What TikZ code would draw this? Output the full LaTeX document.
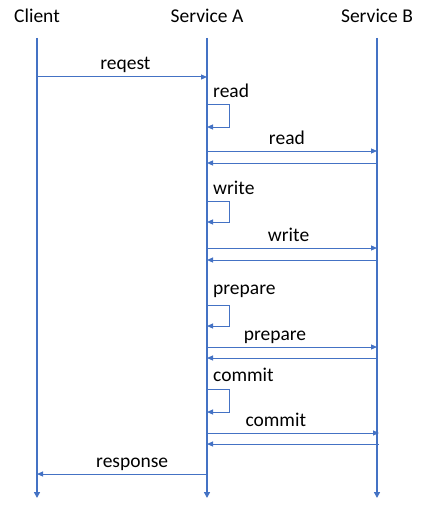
\documentclass[tikz,border=0pt]{standalone}
\usepackage{fontspec}
\setmainfont{Carlito}
\usetikzlibrary{calc}
\usetikzlibrary{arrows.meta}
\definecolor{lineblue}{HTML}{4472C4}
\tikzstyle{actor} = [anchor=base, inner sep=0pt, font=\fontsize{19.5}{23}\selectfont]
\tikzstyle{lifeline} = [draw=lineblue, line width=2pt, -{Triangle[length=6pt, width=6pt]}]
\tikzstyle{msg} = [draw=lineblue, line width=1pt, -{Triangle[length=6pt, width=5pt]}]
\tikzstyle{msglabel} = [anchor=base, inner sep=0pt, yshift=7pt, font=\fontsize{19.5}{23}\selectfont]
\tikzstyle{looplabel} = [anchor=base west, inner sep=0pt, font=\fontsize{19.5}{23}\selectfont]

\begin{document}
\begin{tikzpicture}[x=1pt, y=-1pt]
    \useasboundingbox (0,0) rectangle (425,508);

    % actors and lifelines
    \node[actor] (client) at (37,23) {Client};
    \node[actor] (svc_a) at (207,23) {Service A};
    \node[actor] (svc_b) at (377,23) {Service B};
    \coordinate (client_top) at (37,38);
    \coordinate (client_bot) at (37,498);
    \coordinate (svc_a_top) at (207,38);
    \coordinate (svc_a_bot) at (207,498);
    \coordinate (svc_b_top) at (377,38);
    \coordinate (svc_b_bot) at (377,498);
    \draw[lifeline] (client_top) -- (client_bot);
    \draw[lifeline] (svc_a_top) -- (svc_a_bot);
    \draw[lifeline] (svc_b_top) -- (svc_b_bot);

    % request
    \coordinate (req_from) at (37,77);
    \coordinate (req_to) at (207,77);
    \draw[msg] (req_from) -- node[msglabel, pos=0.52] {reqest} (req_to);

    % read
    \node[looplabel] (read_self_lbl) at (213,98) {read};
    \coordinate (read_self_out) at (207,105);
    \coordinate (read_self_in) at (207,127);
    \draw[msg] (read_self_out) -- ++(22,0) -- ++(0,22) -- (read_self_in);
    \coordinate (read_call_a) at (207,151);
    \coordinate (read_call_b) at (377,151);
    \draw[msg] (read_call_a) -- node[msglabel, pos=0.47] {read} (read_call_b);
    \coordinate (read_ret_b) at (377,163);
    \coordinate (read_ret_a) at (207,163);
    \draw[msg] (read_ret_b) -- (read_ret_a);

    % write
    \node[looplabel] (write_self_lbl) at (213,194) {write};
    \coordinate (write_self_out) at (207,201);
    \coordinate (write_self_in) at (207,222);
    \draw[msg] (write_self_out) -- ++(22,0) -- ++(0,21) -- (write_self_in);
    \coordinate (write_call_a) at (207,248);
    \coordinate (write_call_b) at (377,248);
    \draw[msg] (write_call_a) -- node[msglabel, pos=0.48] {write} (write_call_b);
    \coordinate (write_ret_b) at (377,260);
    \coordinate (write_ret_a) at (207,260);
    \draw[msg] (write_ret_b) -- (write_ret_a);

    % prepare
    \node[looplabel] (prep_self_lbl) at (213,294) {prepare};
    \coordinate (prep_self_out) at (207,305);
    \coordinate (prep_self_in) at (207,326);
    \draw[msg] (prep_self_out) -- ++(22,0) -- ++(0,21) -- (prep_self_in);
    \coordinate (prep_call_a) at (207,347);
    \coordinate (prep_call_b) at (377,347);
    \draw[msg] (prep_call_a) -- node[msglabel, pos=0.40] {prepare} (prep_call_b);
    \coordinate (prep_ret_b) at (377,358);
    \coordinate (prep_ret_a) at (207,358);
    \draw[msg] (prep_ret_b) -- (prep_ret_a);

    % commit
    \node[looplabel] (commit_self_lbl) at (213,381) {commit};
    \coordinate (commit_self_out) at (207,389);
    \coordinate (commit_self_in) at (207,412);
    \draw[msg] (commit_self_out) -- ++(22,0) -- ++(0,23) -- (commit_self_in);
    \coordinate (commit_call_a) at (207,433);
    \coordinate (commit_call_b) at (379,433);
    \draw[msg] (commit_call_a) -- node[msglabel, pos=0.40] {commit} (commit_call_b);
    \coordinate (commit_ret_b) at (379,444);
    \coordinate (commit_ret_a) at (207,444);
    \draw[msg] (commit_ret_b) -- (commit_ret_a);

    % response
    \coordinate (resp_from) at (207,474);
    \coordinate (resp_to) at (37,474);
    \draw[msg] (resp_from) -- node[msglabel, pos=0.44] {response} (resp_to);
\end{tikzpicture}
\end{document}
